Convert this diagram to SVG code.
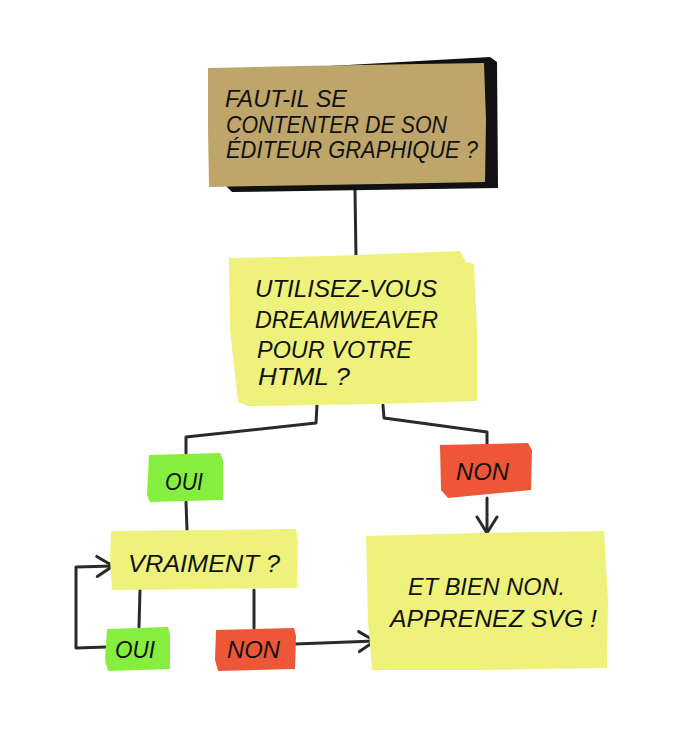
<svg xmlns="http://www.w3.org/2000/svg" width="682" height="732" viewBox="0 0 682 732">
<style>
.t{font-family:"Liberation Sans","DejaVu Sans",sans-serif;font-style:italic;fill:#111;}
.big{font-size:24px;}
.sm{font-size:23px;}
.c{fill:none;stroke:#2a2a2a;stroke-width:3;stroke-linecap:round;stroke-linejoin:round;}
.brown{fill:#BEA66A;}
.yellow{fill:#EEF27C;}
.green{fill:#86EE3E;}
.red{fill:#EE5638;}
</style>
<defs>
<marker id="arr" viewBox="0 0 24 24" refX="20" refY="12" markerWidth="24" markerHeight="24" markerUnits="userSpaceOnUse" orient="auto">
<path d="M4,2 L20,12 L4,22" fill="none" stroke="#2a2a2a" stroke-width="3" stroke-linecap="round" stroke-linejoin="round"/>
</marker>
</defs>
<rect width="682" height="732" fill="#fff"/>
<g id="connectors">
<path class="c" d="M355,190 L356,258"/>
<path class="c" d="M317,405 L316,423 L186,437 L186,456"/>
<path class="c" d="M383,405 L384,418 L487,432 L487,444"/>
<path class="c" d="M186,502 L187,530"/>
<path class="c" d="M487,498 L487,533" marker-end="url(#arr)"/>
<path class="c" d="M140,590 L139,627"/>
<path class="c" d="M254,590 L254,628"/>
<path class="c" d="M107,647 L76,648 L76,567 L113,566" marker-end="url(#arr)"/>
<path class="c" d="M295,644 L375,641" marker-end="url(#arr)"/>
</g>
<g id="n-editeur">
<path fill="#111" d="M222,72 L490,57 L497,62 L498,188 L232,192 L226,186 Z"/>
<path class="brown" d="M208,68 L300,66 L420,64 L484,63 L486,120 L485,182 L380,184 L260,186 L209,187 L208,130 Z"/>
<text class="t big" x="225" y="107" textLength="122" lengthAdjust="spacingAndGlyphs">FAUT-IL SE</text>
<text class="t big" x="226" y="133" textLength="221" lengthAdjust="spacingAndGlyphs">CONTENTER DE SON</text>
<text class="t big" x="226" y="158" textLength="252" lengthAdjust="spacingAndGlyphs">ÉDITEUR GRAPHIQUE ?</text>
</g>
<g id="n-dreamweaver">
<path class="yellow" d="M229,258 L330,256 L460,251 L466,262 L474,264 L477,330 L477,401 L380,404 L248,406 L238,402 L230,330 Z"/>
<text class="t big" x="255" y="297" textLength="182" lengthAdjust="spacingAndGlyphs">UTILISEZ-VOUS</text>
<text class="t big" x="255" y="328" textLength="183" lengthAdjust="spacingAndGlyphs">DREAMWEAVER</text>
<text class="t big" x="257" y="358" textLength="155" lengthAdjust="spacingAndGlyphs">POUR VOTRE</text>
<text class="t big" x="258" y="385" textLength="92" lengthAdjust="spacingAndGlyphs">HTML ?</text>
</g>
<g id="n-oui1">
<path class="green" d="M149,455 L220,453 L223,460 L223,500 L150,502 L147,495 Z"/>
<text class="t sm" x="165" y="490" textLength="38" lengthAdjust="spacingAndGlyphs">OUI</text>
</g>
<g id="n-non1">
<path class="red" d="M440,445 L528,443 L532,450 L531,490 L448,498 L441,490 Z"/>
<text class="t sm" x="456" y="480" textLength="53" lengthAdjust="spacingAndGlyphs">NON</text>
</g>
<g id="n-vraiment">
<path class="yellow" d="M111,531 L296,529 L298,540 L297,588 L112,590 L110,560 Z"/>
<text class="t sm" x="128" y="572" textLength="152" lengthAdjust="spacingAndGlyphs">VRAIMENT ?</text>
</g>
<g id="n-oui2">
<path class="green" d="M107,629 L168,627 L170,635 L170,669 L108,671 L105,660 Z"/>
<text class="t sm" x="115" y="658" textLength="40" lengthAdjust="spacingAndGlyphs">OUI</text>
</g>
<g id="n-non2">
<path class="red" d="M216,630 L294,628 L296,636 L295,669 L218,671 L215,660 Z"/>
<text class="t sm" x="227" y="658" textLength="53" lengthAdjust="spacingAndGlyphs">NON</text>
</g>
<g id="n-svg">
<path class="yellow" d="M366,536 L480,533 L604,531 L608,600 L607,668 L480,670 L372,670 L368,620 Z"/>
<text class="t sm" x="408" y="595" textLength="157" lengthAdjust="spacingAndGlyphs">ET BIEN NON.</text>
<text class="t sm" x="390" y="627" textLength="207" lengthAdjust="spacingAndGlyphs">APPRENEZ SVG !</text>
</g>
</svg>
